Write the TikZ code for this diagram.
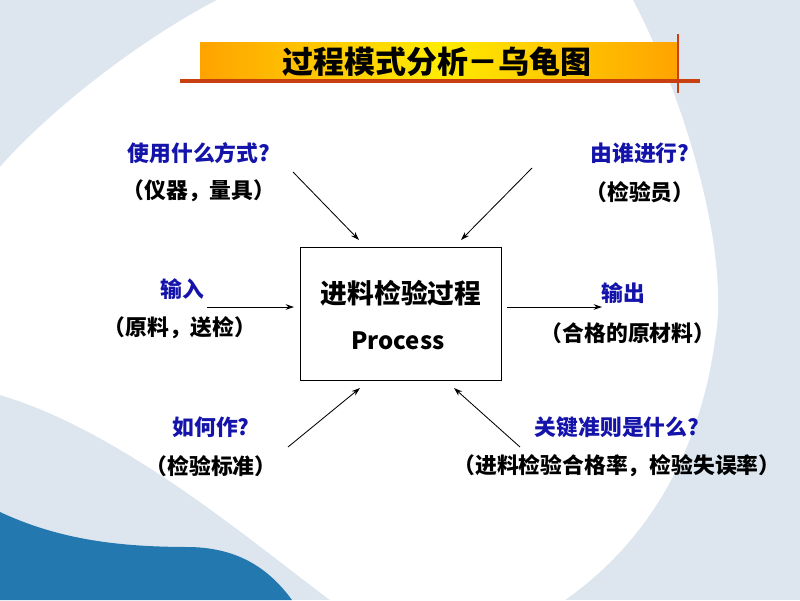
\documentclass[tikz,border=0pt]{standalone}
\usepackage{fontspec}
\newfontfamily\cjk{Noto Sans CJK SC}
\usetikzlibrary{arrows.meta,positioning,calc}

\definecolor{bgblue}{RGB}{221,230,239}
\definecolor{deepblue}{RGB}{36,120,176}
\definecolor{qblue}{RGB}{20,20,170}
\definecolor{barred}{RGB}{200,64,16}
\definecolor{barorange}{RGB}{255,163,0}
\definecolor{baryellow}{RGB}{255,236,0}

\tikzset{
 question/.style={text=qblue, font=\cjk\bfseries\fontsize{15.5}{18}\selectfont},
 answer/.style={text=black, font=\cjk\bfseries\fontsize{15.5}{18}\selectfont},
 link/.style={-{Stealth[length=6pt,width=4pt]}, line width=0.6pt},
}

\begin{document}
\begin{tikzpicture}[x=0.025cm, y=-0.025cm]
\useasboundingbox (0,0) rectangle (800,600);

% background
\fill[bgblue] (0,0) rectangle (800,600);
\fill[white] (217,0) -- (633,0) .. controls (690,110) and (730,260) .. (715,340)
  .. controls (700,450) and (650,540) .. (565,600) -- (330,600)
  .. controls (250,540) and (120,430) .. (0,395) -- (0,167)
  .. controls (50,110) and (140,40) .. (217,0) -- cycle;
\fill[deepblue] (0,512) .. controls (60,540) and (120,547) .. (190,547)
  .. controls (240,548) and (270,570) .. (292,600) -- (0,600) -- cycle;

% title bar
\shade[left color=barorange, right color=barorange, middle color=baryellow]
  (200,42) rectangle (678,80);
\draw[barred, line width=2.8pt] (180,81) -- (700,81);
\draw[barred, line width=2pt] (678,34) -- (678,93);
\node[font=\cjk\bfseries\fontsize{22}{26}\selectfont] (title) at (437,62) {过程模式分析－乌龟图};

% process box
\node[draw, line width=0.7pt, fill=white, minimum width=5cm, minimum height=3.3cm] (proc) at (401,314) {};
\node[font=\cjk\bfseries\fontsize{19}{22}\selectfont] (procA) at (401,293) {进料检验过程};
\node[font=\cjk\bfseries\fontsize{17}{22}\selectfont] (procB) at (398,341) {Process};

% labels
\node[question] (toolQ) at (199,153) {使用什么方式?};
\node[answer]   (toolA) at (199,191) {（仪器，量具）};
\node[question] (whoQ)  at (640,153) {由谁进行?};
\node[answer]   (whoA)  at (640,192) {（检验员）};
\node[question] (inQ)   at (182,289) {输入};
\node[answer]   (inA)   at (180,328) {（原料，送检）};
\node[question] (outQ)  at (623,293) {输出};
\node[answer]   (outA)  at (628,333) {（合格的原材料）};
\node[question] (howQ)  at (211,427) {如何作?};
\node[answer]   (howA)  at (211,466) {（检验标准）};
\node[question] (critQ) at (617,427) {关键准则是什么?};
\node[answer]   (critA) at (617,466) {（进料检验合格率，检验失误率）};

% arrow ends
\coordinate (toolS) at (293,172);  \coordinate (toolE) at (359,240);
\coordinate (whoS)  at (532,168);  \coordinate (whoE)  at (461,240);
\coordinate (inS)   at (207,307);  \coordinate (inE)   at (294,307);
\coordinate (outS)  at (507,307);  \coordinate (outE)  at (602,307);
\coordinate (howS)  at (288,447);  \coordinate (howE)  at (360,388);
\coordinate (critS) at (520,447);  \coordinate (critE) at (454,388);

\foreach \a in {tool,who,in,out,how,crit}
 \draw[link] (\a S) -- (\a E);
\end{tikzpicture}
\end{document}
